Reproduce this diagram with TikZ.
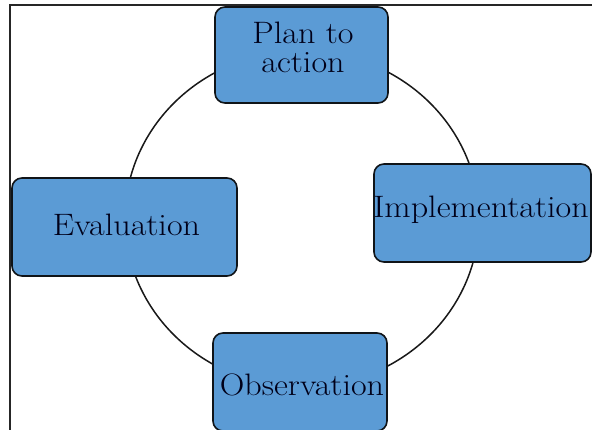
\documentclass[tikz,border=0pt]{standalone}
\usepackage{graphicx}
\definecolor{boxblue}{HTML}{5B9BD5}
\definecolor{boxedge}{HTML}{101418}
\newcommand{\wide}[1]{\scalebox{1.1}[1]{#1}}
\begin{document}
\begin{tikzpicture}[x=1pt,y=-1pt,
  box/.style={draw=boxedge, line width=1.6pt, fill=boxblue, rounded corners=10pt, inner sep=0pt},
  txt/.style={inner sep=0pt, text=black!90!blue, font=\fontsize{31}{29}\selectfont, align=center},
  ring/.style={draw=black!90, line width=1.5pt}]
  \useasboundingbox (0,0) rectangle (592,430);
  \clip (0,0) rectangle (592,430);
  % outer frame (cut at right and bottom)
  \draw[line width=1.5pt, draw=black!85] (10,440) -- (10,5) -- (600,5);
  % cycle ring
  \draw[ring] (302,219) ellipse [x radius=177, y radius=168];
  % boxes
  \node[box, minimum width=173pt, minimum height=96pt] (plan) at (301.5,55) {};
  \node[box, minimum width=217pt, minimum height=98pt] (impl) at (482.5,213) {};
  \node[box, minimum width=225pt, minimum height=98pt] (eval) at (124.5,227) {};
  \node[box, minimum width=174pt, minimum height=98pt] (obs) at (300,382) {};
  % labels
  \node[txt] (plant) at (303,47) {\wide{Plan to}\\\wide{action}};
  \node[txt] (implt) at (481,209.5) {\wide{Implementation}};
  \node[txt] (evalt) at (126.5,224.6) {\wide{Evaluation}};
  \node[txt] (obst) at (302,384.6) {\wide{Observation}};
\end{tikzpicture}
\end{document}
